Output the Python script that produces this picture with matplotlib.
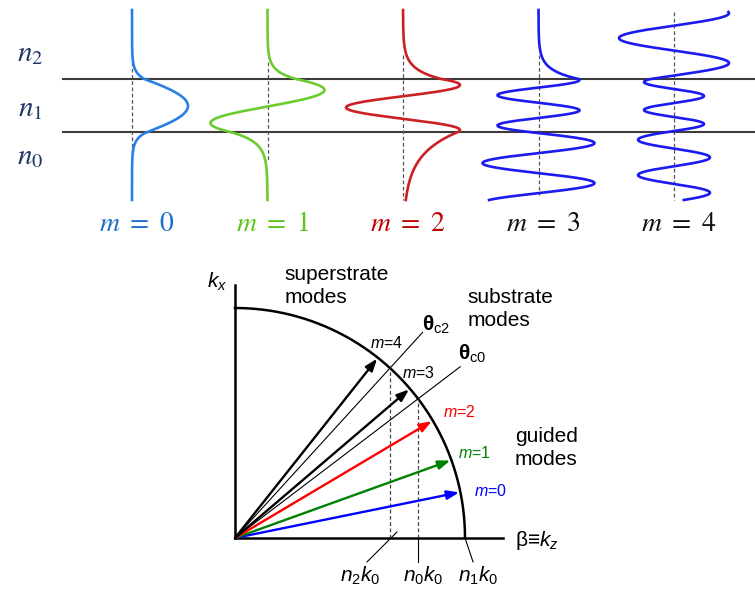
import numpy as np
import matplotlib
matplotlib.use("Agg")
import matplotlib.pyplot as plt

plt.rcParams['font.family'] = ['Liberation Sans', 'DejaVu Sans']
plt.rcParams['mathtext.fontset'] = 'custom'
plt.rcParams['mathtext.rm'] = 'Liberation Sans'
plt.rcParams['mathtext.it'] = 'Liberation Sans:italic'
plt.rcParams['mathtext.bf'] = 'Liberation Sans:bold'

# ---- slab waveguide mode profiles (pixel units of the upper panel) ----
core_top, core_bot = 79, 132
mode_numbers = [0, 1, 2, 3, 4]
mode_colors = ['#2A7FE6', '#6CCB2E', '#CC2024', '#1B1BF0', '#1B1BF0']
label_colors = ['#1C6FC8', '#5EC41A', '#C00000', '#111111', '#111111']
# field inside the core: amp * cos(k * (y - y0))
core_amp = [56, 57, 57, 41, -30]
core_k = [0.050, 0.0952, 0.1396, 0.207, 0.2244]
core_y0 = [106, 90, 85, 80, 82]
# cladding: evanescent decay length, or (amplitude, wavenumber) if radiating
top_decay = [7, 8, 10, 9, None]
top_osc = [None, None, None, None, (55, 0.126)]
bot_decay = [7, 10, 23, None, None]
bot_osc = [None, None, None, (56, 0.157), (36, 0.178)]
curve_top = [10, 10, 10, 10, 12]
curve_bot = [200, 200, 200, 200, 200]
dash_top = [62, 62, 55, 55, 12]
dash_bot = [152, 160, 200, 195, 200]
layer_names = ['$n_2$', '$n_1$', '$n_0$']
layer_label_y = [53, 108, 156]

# ---- k-vector diagram (units of n1*k0) ----
n1k0, n0k0, n2k0 = 1.0, 0.796, 0.674
mode_angles = [11.5, 19.8, 30.7, 40.5, 51.6]  # degrees
arrow_colors = ['#0000FF', '#008000', '#FF0000', 'black', 'black']
mode_label_xy = [(1.109, 0.204), (1.043, 0.370), (0.974, 0.548), (0.796, 0.717), (0.661, 0.848)]
beta_labels = ['$n_2k_0$', '$n_0k_0$', '$n_1k_0$']
beta_values = [n2k0, n0k0, n1k0]
beta_label_x = [0.543, 0.817, 1.057]
# leader lines: (x offset at the bottom, x/y offset of the top end)
leader_bottom_dx = [-0.100, 0.0, 0.035]
leader_top = [(0.030, 0.026), (0.0, 0.0), (0.0, 0.0)]


def mode_field(i, y):
    A, k, y0 = core_amp[i], core_k[i], core_y0[i]
    f = A * np.cos(k * (y - y0))
    for yb, side, dec, osc in [(core_top, y < core_top, top_decay[i], top_osc[i]),
                               (core_bot, y > core_bot, bot_decay[i], bot_osc[i])]:
        vb = A * np.cos(k * (yb - y0))
        db = -A * k * np.sin(k * (yb - y0))
        if dec is not None:
            f = np.where(side, vb * np.exp(-np.abs(y - yb) / dec), f)
        else:
            B, ko = osc
            psi = np.arccos(np.clip(vb / B, -1, 1)) * (-np.sign(db))
            f = np.where(side, B * np.cos(ko * (y - yb) + psi), f)
    return f


fig = plt.figure(figsize=(7.55, 5.97), dpi=100)

# upper panel
ax = fig.add_axes([0, 347 / 597, 1, 250 / 597])
ax.set_xlim(0, 755)
ax.set_ylim(250, 0)
ax.axis('off')

ax.axhline(core_top, xmin=63 / 755, xmax=1, color='#3C3C3C', lw=1.5, zorder=1)
ax.axhline(core_bot, xmin=63 / 755, xmax=1, color='#3C3C3C', lw=1.5, zorder=1)
for name, yl in zip(layer_names, layer_label_y):
    ax.text(30, yl, name, fontsize=21, color='#1F3864', ha='center', va='center',
            math_fontfamily='stix')

for i, m in enumerate(mode_numbers):
    xc = 132 + 135.5 * i
    ys = np.linspace(curve_top[i], curve_bot[i], 600)
    ax.plot([xc, xc], [dash_top[i], dash_bot[i]], ls=(0, (3, 2)), color='#555555', lw=0.9, zorder=2)
    ax.plot(xc + mode_field(i, ys), ys, color=mode_colors[i], lw=1.9, zorder=3)
    ax.text(xc + 5, 224, rf'$m\ =\ {m}$', fontsize=20, color=label_colors[i], ha='center',
            va='center', math_fontfamily='stix')

# lower panel: k-vector diagram
R = 230.0
bx = fig.add_axes([150 / 755, 0, 605 / 755, 347 / 597])
bx.set_xlim((150 - 235) / R, (755 - 235) / R)
bx.set_ylim((538 - 597) / R, (538 - 250) / R)
bx.axis('off')

bx.plot([0, 1.165], [0, 0], color='black', lw=1.8)
bx.plot([0, 0], [0, 1.10], color='black', lw=1.8)
t = np.linspace(0, np.pi / 2, 200)
bx.plot(n1k0 * np.cos(t), n1k0 * np.sin(t), color='black', lw=1.8)

# critical angles and their cut-off lines
for nk, length, lab, lab_xy in [(n2k0, 1.21, r'$\mathbf{\theta}_{\mathrm{c2}}$', (0.813, 0.926)),
                                 (n0k0, 1.23, r'$\mathbf{\theta}_{\mathrm{c0}}$', (0.970, 0.800))]:
    th = np.arccos(nk / n1k0)
    bx.plot([0, length * np.cos(th)], [0, length * np.sin(th)], color='black', lw=0.8)
    bx.plot([nk, nk], [0, np.sqrt(n1k0 ** 2 - nk ** 2)], ls=(0, (3, 2)), color='#444444', lw=0.9)
    bx.text(lab_xy[0], lab_xy[1], lab, fontsize=15, ha='left', va='center')

for i, m in enumerate(mode_numbers):
    th = np.radians(mode_angles[i])
    bx.annotate('', xy=(0.995 * np.cos(th), 0.995 * np.sin(th)), xytext=(0, 0),
                arrowprops=dict(arrowstyle='-|>,head_length=0.6,head_width=0.22',
                                color=arrow_colors[i], lw=1.7, shrinkA=0, shrinkB=0,
                                mutation_scale=12))
    bx.text(mode_label_xy[i][0], mode_label_xy[i][1], f'$m$={m}', fontsize=11.5,
            color=arrow_colors[i], ha='center', va='center')

# labels along the beta axis with leader lines
for nk, lab, lx, bdx, (tdx, tdy) in zip(beta_values, beta_labels, beta_label_x,
                                         leader_bottom_dx, leader_top):
    bx.plot([nk + bdx, nk + tdx], [-0.104, tdy], color='black', lw=0.8)
    bx.text(lx, -0.165, lab, fontsize=15, ha='center', va='center')

bx.text(-0.122, 1.113, '$k_x$', fontsize=15, ha='left', va='center')
bx.text(1.217, -0.013, 'β≡$k_z$', fontsize=15, ha='left', va='center')
bx.text(0.217, 1.187, 'superstrate\nmodes', fontsize=15, ha='left', va='top', linespacing=1.25)
bx.text(1.009, 1.087, 'substrate\nmodes', fontsize=15, ha='left', va='top', linespacing=1.25)
bx.text(1.217, 0.483, 'guided\nmodes', fontsize=15, ha='left', va='top', linespacing=1.25)

fig.savefig('out.png', dpi=100)
